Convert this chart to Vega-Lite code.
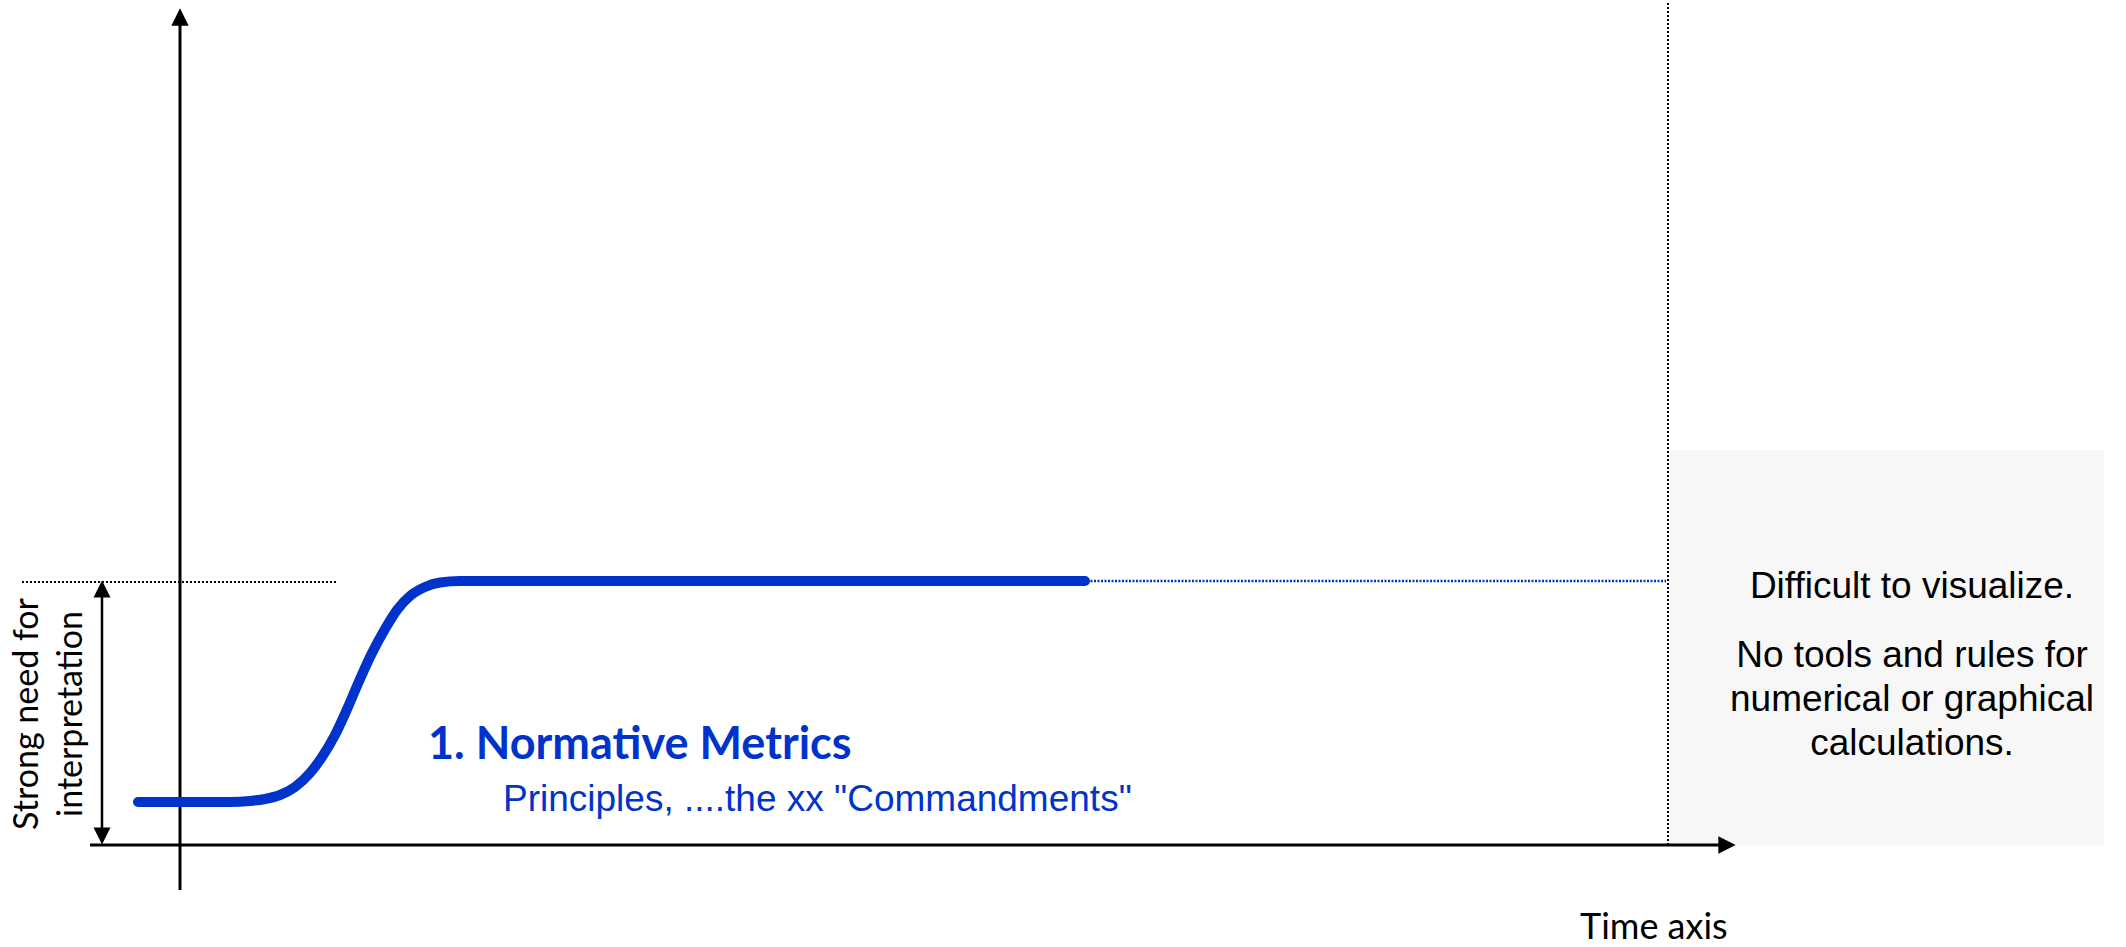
{
  "$schema": "https://vega.github.io/schema/vega-lite/v6.json",
  "width": 2126,
  "height": 947,
  "padding": 0,
  "autosize": "none",
  "background": "white",
  "config": {"view": {"stroke": null}},
  "datasets": {
    "region": [{"x": 1668, "x2": 2104, "y": 102, "y2": 497}],
    "axes": [
      {"name": "time", "x": 90, "x2": 1722, "y": 102, "y2": 102},
      {"name": "level", "x": 180, "x2": 180, "y": 57, "y2": 925}
    ],
    "span": [{"x": 102, "x2": 102, "y": 106, "y2": 361}],
    "blackDotted": [
      {"x": 22, "x2": 337, "y": 365, "y2": 365},
      {"x": 1668, "x2": 1668, "y": 102, "y2": 946}
    ],
    "blueDotted": [{"x": 1087, "x2": 1666, "y": 366, "y2": 366}],
    "axisHeads": [
      {"x": 1727, "y": 102, "dir": "right"},
      {"x": 180, "y": 930, "dir": "up"}
    ],
    "spanHeads": [
      {"x": 102, "y": 358, "dir": "up"},
      {"x": 102, "y": 111, "dir": "down"}
    ],
    "curve": [
      {"x": 138, "y": 145},
      {"x": 230, "y": 145},
      {"x": 250, "y": 146},
      {"x": 265, "y": 148},
      {"x": 280, "y": 152},
      {"x": 295, "y": 160},
      {"x": 310, "y": 174},
      {"x": 322, "y": 190},
      {"x": 335, "y": 212},
      {"x": 348, "y": 240},
      {"x": 360, "y": 268},
      {"x": 372, "y": 294},
      {"x": 385, "y": 318},
      {"x": 397, "y": 337},
      {"x": 410, "y": 351},
      {"x": 425, "y": 360},
      {"x": 440, "y": 364.5},
      {"x": 460, "y": 366},
      {"x": 1085, "y": 366}
    ],
    "sideLabel": [
      {"text": "Strong need for", "x": 28, "y": 233},
      {"text": "interpretation", "x": 72, "y": 233}
    ],
    "title": [{"text": "1. Normative Metrics", "x": 428, "y": 188}],
    "subtitle": [{"text": "Principles, ....the xx \"Commandments\"", "x": 503, "y": 136}],
    "boxText": [
      {"text": "Difficult to visualize.", "x": 1912, "y": 349},
      {"text": "No tools and rules for", "x": 1912, "y": 280},
      {"text": "numerical or graphical", "x": 1912, "y": 236},
      {"text": "calculations.", "x": 1912, "y": 192}
    ],
    "timeLabel": [{"text": "Time axis", "x": 1580, "y": 8}]
  },
  "encoding": {
    "x": {"field": "x", "type": "quantitative", "scale": {"domain": [0, 2126], "nice": false, "zero": false}, "axis": null},
    "y": {"field": "y", "type": "quantitative", "scale": {"domain": [0, 947], "nice": false, "zero": false}, "axis": null}
  },
  "layer": [
    {
      "data": {"name": "region"},
      "mark": {"type": "rect", "fill": "#F7F7F7"},
      "encoding": {"x2": {"field": "x2"}, "y2": {"field": "y2"}}
    },
    {
      "data": {"name": "blackDotted"},
      "mark": {"type": "rule", "color": "black", "strokeWidth": 2, "strokeDash": [2, 2]},
      "encoding": {"x2": {"field": "x2"}, "y2": {"field": "y2"}}
    },
    {
      "data": {"name": "blueDotted"},
      "mark": {"type": "rule", "color": "#0033CC", "strokeWidth": 2.5, "strokeDash": [2, 1.5]},
      "encoding": {"x2": {"field": "x2"}, "y2": {"field": "y2"}}
    },
    {
      "data": {"name": "axes"},
      "mark": {"type": "rule", "color": "black", "strokeWidth": 3},
      "encoding": {"x2": {"field": "x2"}, "y2": {"field": "y2"}}
    },
    {
      "data": {"name": "span"},
      "mark": {"type": "rule", "color": "black", "strokeWidth": 2.5},
      "encoding": {"x2": {"field": "x2"}, "y2": {"field": "y2"}}
    },
    {
      "data": {"name": "axisHeads"},
      "mark": {"type": "point", "filled": true, "color": "black", "opacity": 1, "size": 300},
      "encoding": {
        "shape": {"field": "dir", "type": "nominal", "legend": null,
          "scale": {"domain": ["up", "down", "right"], "range": ["M0,-1L1,1L-1,1Z", "M0,1L1,-1L-1,-1Z", "M1,0L-1,-1L-1,1Z"]}}
      }
    },
    {
      "data": {"name": "spanHeads"},
      "mark": {"type": "point", "filled": true, "color": "black", "opacity": 1, "size": 289},
      "encoding": {
        "shape": {"field": "dir", "type": "nominal", "legend": null,
          "scale": {"domain": ["up", "down", "right"], "range": ["M0,-1L0.47,1L-0.47,1Z", "M0,1L0.47,-1L-0.47,-1Z", "M1,0L-1,-1L-1,1Z"]}}
      }
    },
    {
      "data": {"name": "curve"},
      "mark": {"type": "line", "color": "#0033CC", "strokeWidth": 10, "strokeCap": "round", "strokeJoin": "round", "interpolate": "monotone"},
      "encoding": {}
    },
    {
      "data": {"name": "sideLabel"},
      "mark": {"type": "text", "angle": 270, "align": "center", "baseline": "middle", "font": "Lato", "fontSize": 34, "color": "black"},
      "encoding": {"text": {"field": "text"}}
    },
    {
      "data": {"name": "title"},
      "mark": {"type": "text", "align": "left", "baseline": "alphabetic", "font": "Lato", "fontWeight": "bold", "fontSize": 45, "color": "#0033CC"},
      "encoding": {"text": {"field": "text"}}
    },
    {
      "data": {"name": "subtitle"},
      "mark": {"type": "text", "align": "left", "baseline": "alphabetic", "font": "Liberation Sans", "fontSize": 37, "color": "#0033CC"},
      "encoding": {"text": {"field": "text"}}
    },
    {
      "data": {"name": "boxText"},
      "mark": {"type": "text", "align": "center", "baseline": "alphabetic", "font": "Liberation Sans", "fontSize": 37, "color": "black"},
      "encoding": {"text": {"field": "text"}}
    },
    {
      "data": {"name": "timeLabel"},
      "mark": {"type": "text", "align": "left", "baseline": "alphabetic", "font": "Lato", "fontSize": 36, "color": "black"},
      "encoding": {"text": {"field": "text"}}
    }
  ]
}
